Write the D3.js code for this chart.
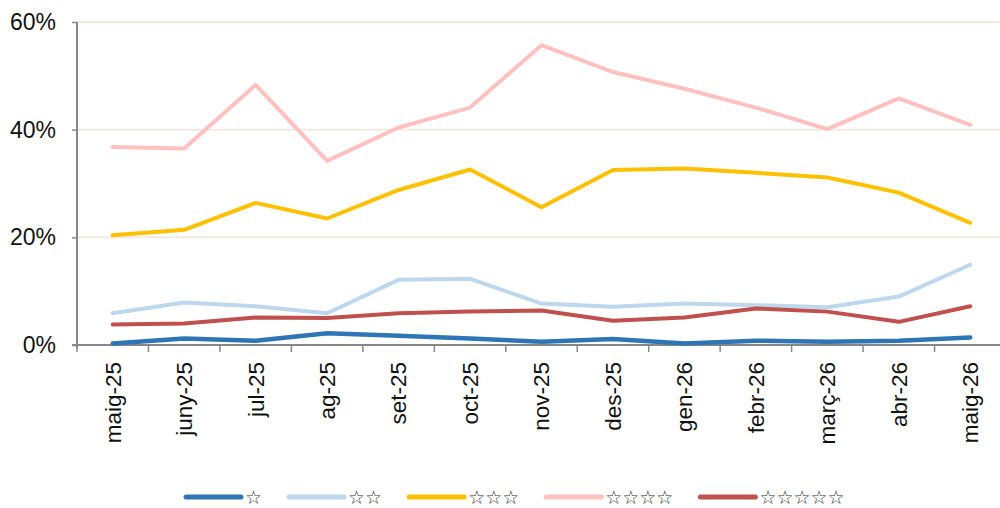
<!DOCTYPE html>
<html>
<head>
<meta charset="utf-8">
<script src="https://cdn.jsdelivr.net/npm/d3@7"></script>
<style>
  body { margin: 0; background: #fff; }
  svg { display: block; font-family: "Liberation Sans", Arial, sans-serif; }
</style>
</head>
<body>
<svg id="chart" width="1000" height="508"></svg>
<script>
const months = ["maig-25", "juny-25", "jul-25", "ag-25", "set-25", "oct-25", "nov-25",
  "des-25", "gen-26", "febr-26", "març-26", "abr-26", "maig-26"];

const oneStar   = [0.3, 1.2, 0.8, 2.2, 1.7, 1.2, 0.6, 1.1, 0.3, 0.8, 0.6, 0.8, 1.4];
const twoStar   = [5.9, 7.9, 7.2, 5.9, 12.1, 12.3, 7.7, 7.1, 7.7, 7.4, 7.0, 9.0, 14.9];
const threeStar = [20.4, 21.4, 26.4, 23.5, 28.8, 32.6, 25.6, 32.5, 32.8, 32.0, 31.1, 28.3, 22.7];
const fourStar  = [36.8, 36.5, 48.3, 34.2, 40.4, 44.1, 55.7, 50.7, 47.6, 44.1, 40.1, 45.8, 40.9];
const fiveStar  = [3.8, 4.0, 5.1, 5.0, 5.9, 6.2, 6.4, 4.5, 5.1, 6.8, 6.2, 4.3, 7.2];

const yTicks = [0, 20, 40, 60];

const series = [
  { name: "☆", values: oneStar, color: "#2E75B6", width: 4.5 },
  { name: "☆☆", values: twoStar, color: "#BDD7EE", width: 4 },
  { name: "☆☆☆", values: threeStar, color: "#FFC000", width: 4 },
  { name: "☆☆☆☆", values: fourStar, color: "#FFC0C0", width: 4 },
  { name: "☆☆☆☆☆", values: fiveStar, color: "#C0504D", width: 4 }
];

const svg = d3.select("#chart");
const plot = { left: 77, right: 1006, top: 22, bottom: 345 };

const x = d3.scaleBand().domain(months).range([plot.left, plot.right]);
const y = d3.scaleLinear().domain([0, 60]).range([plot.bottom, plot.top]);

// gridlines
svg.append("g")
  .selectAll("line")
  .data(yTicks.filter(d => d > 0))
  .join("line")
  .attr("x1", plot.left).attr("x2", 1000)
  .attr("y1", d => y(d)).attr("y2", d => y(d))
  .attr("stroke", "#EEEBE0")
  .attr("stroke-width", 2);

// y axis
const yAxis = svg.append("g")
  .attr("transform", `translate(${plot.left},0)`)
  .call(d3.axisLeft(y).tickValues(yTicks).tickFormat(d => d + "%").tickSize(5).tickPadding(16));
yAxis.select(".domain").attr("stroke", "#888").attr("stroke-width", 2)
  .attr("d", `M0,${plot.top}V${plot.bottom + 3}`);
yAxis.selectAll(".tick line").attr("stroke", "#888").attr("stroke-width", 1.5);
yAxis.selectAll(".tick text").attr("font-size", 23).attr("fill", "#111")
  .attr("font-family", "Liberation Sans, Arial, sans-serif");

// x axis, ticks between categories
const xAxis = svg.append("g")
  .attr("transform", `translate(0,${plot.bottom})`)
  .call(d3.axisBottom(x).tickSize(0).tickPadding(0));
xAxis.select(".domain").attr("stroke", "#888").attr("stroke-width", 2)
  .attr("d", `M${plot.left - 5},0H1000`);
xAxis.selectAll(".tick text")
  .attr("font-size", 22.5)
  .attr("fill", "#111")
  .attr("font-family", "Liberation Sans, Arial, sans-serif")
  .attr("text-anchor", "end")
  .attr("dy", "0.35em")
  .attr("transform", "translate(0,17) rotate(-90)");
xAxis.append("g")
  .selectAll("line")
  .data(months)
  .join("line")
  .attr("x1", d => x(d)).attr("x2", d => x(d))
  .attr("y1", 0).attr("y2", 7)
  .attr("stroke", "#888").attr("stroke-width", 1.5);

// lines
const line = d3.line()
  .x((d, i) => x(months[i]) + x.bandwidth() / 2)
  .y(d => y(d));

svg.append("g")
  .selectAll("path")
  .data(series)
  .join("path")
  .attr("fill", "none")
  .attr("stroke", d => d.color)
  .attr("stroke-width", d => d.width)
  .attr("stroke-linecap", "round")
  .attr("stroke-linejoin", "round")
  .attr("d", d => line(d.values));

// legend
const legend = svg.append("g").attr("transform", "translate(0,497)");
let lx = 186;
series.forEach(s => {
  legend.append("line")
    .attr("x1", lx).attr("x2", lx + 55)
    .attr("y1", 0).attr("y2", 0)
    .attr("stroke", s.color)
    .attr("stroke-width", 5)
    .attr("stroke-linecap", "round");
  const t = legend.append("text")
    .attr("x", lx + 59)
    .attr("y", 7)
    .attr("font-size", 19)
    .attr("font-family", "DejaVu Sans, sans-serif")
    .attr("fill", "#333")
    .text(s.name);
  lx += 59 + t.node().getComputedTextLength() + 27;
});
</script>
</body>
</html>
